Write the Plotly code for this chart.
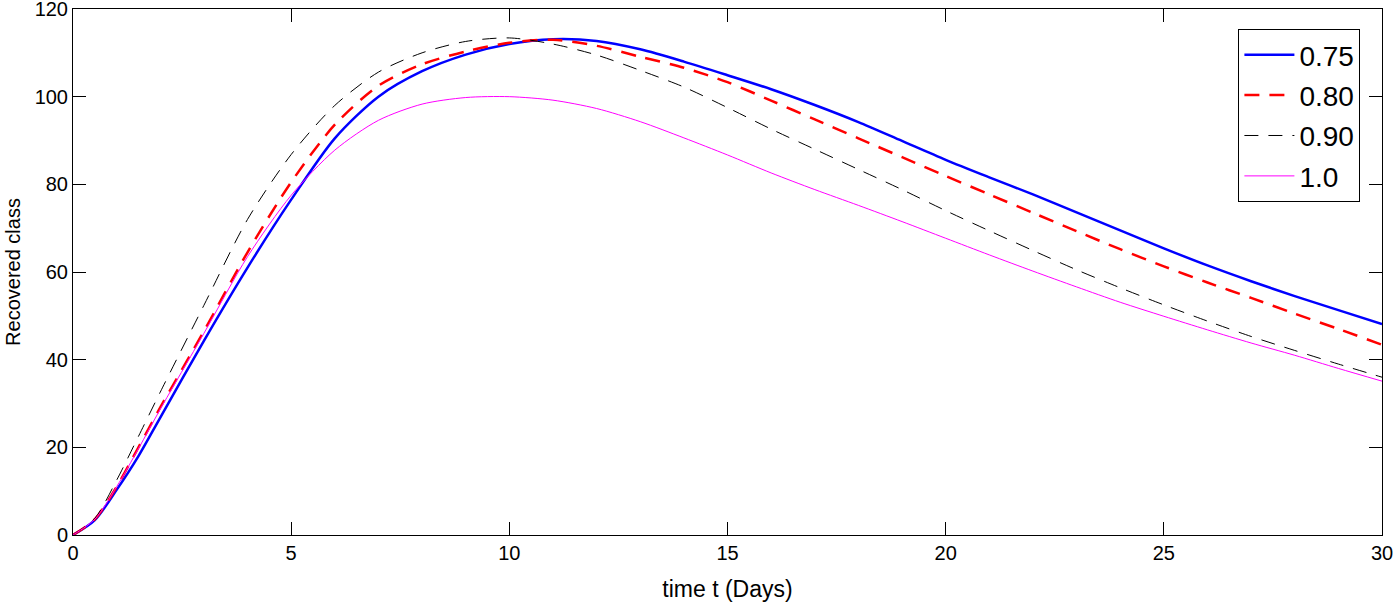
import plotly.graph_objects as go

t = [0, 0.5, 1, 1.5, 2, 3, 4, 5, 6, 7, 8, 9, 10, 11, 12, 13, 14, 15, 16, 17, 18, 19,
     20, 21, 22, 23, 24, 25, 26, 27, 28, 29, 30]

r_075 = [0, 3.4, 10.3, 18, 26.8, 44.3, 61, 76.5, 90.5, 100, 105.8, 109.6, 112, 113.1, 112.7,
         110.8, 108, 104.9, 101.7, 98.1, 94.2, 89.9, 85.6, 81.6, 77.7, 73.6, 69.5, 65.4,
         61.5, 57.9, 54.5, 51.3, 48.1]
r_080 = [0, 3.6, 11, 20, 29.1, 46.5, 64.5, 80.5, 93.6, 102.5, 107.4, 110.3, 112.3, 113, 111.6,
         109.1, 106.6, 103.3, 99.1, 94.8, 90.5, 86.2, 81.9, 77.7, 73.5, 69.3, 65.2, 61.3,
         57.6, 54.1, 50.5, 47, 43.4]
r_090 = [0, 3.8, 12.5, 22.5, 32.6, 52.4, 72, 86.8, 98, 105.6, 110, 112.6, 113.4, 112, 109.5,
         106, 102.2, 97.5, 92.6, 88, 83.4, 78.8, 74, 69.4, 64.9, 60.5, 56.4, 52.5, 48.8,
         45.3, 42.1, 39, 36]
r_100 = [0, 3.6, 11, 19.7, 28.7, 46, 63.5, 77.5, 87.8, 94.6, 98.3, 99.8, 100, 99.2, 97.3,
         94.3, 90.6, 86.7, 82.6, 78.8, 75.2, 71.5, 67.7, 63.9, 60.2, 56.6, 53.1, 49.9, 46.8,
         43.8, 41, 38, 35.1]

names = ["0.75", "0.80", "0.90", "1.0"]
series = [r_075, r_080, r_090, r_100]
styles = [
    dict(color="#0000ff", width=2.5, dash="solid"),
    dict(color="#ff0000", width=2.5, dash="15px,10px"),
    dict(color="#000000", width=1, dash="14px,10px"),
    dict(color="#ff00ff", width=1, dash="solid"),
]

FONT = "Liberation Sans, Arial, sans-serif"

fig = go.Figure()
for n, s, st in zip(names, series, styles):
    fig.add_trace(go.Scatter(x=t, y=s, mode="lines", name=n,
                             line=dict(shape="spline", smoothing=0.8, **st),
                             legendgroup=n))

axis_common = dict(
    showline=True, linecolor="black", linewidth=1, mirror="ticks",
    ticks="inside", ticklen=13, tickcolor="black", tickwidth=1,
    showgrid=False, zeroline=False, automargin=False,
    ticklabeloverflow="allow",
    tickfont=dict(family=FONT, size=20, color="black"),
)

fig.update_xaxes(range=[0, 30], tickvals=[0, 5, 10, 15, 20, 25, 30],
                 title=dict(text="time t (Days)", standoff=18,
                            font=dict(family=FONT, size=23, color="black")),
                 **axis_common)
fig.update_yaxes(range=[0, 120], tickvals=[0, 20, 40, 60, 80, 100, 120],
                 title=dict(text="Recovered class", standoff=8,
                            font=dict(family=FONT, size=20, color="black")),
                 **axis_common)

fig.update_layout(
    width=1394, height=602,
    margin=dict(l=73, r=12, t=9, b=67),
    plot_bgcolor="white", paper_bgcolor="white",
    legend=dict(
        x=0.9835, y=0.962, xanchor="right", yanchor="top",
        bordercolor="black", borderwidth=1, bgcolor="white",
        font=dict(family=FONT, size=28, color="black"),
        tracegroupgap=1, itemwidth=50,
    ),
)

fig.write_html("out.html", config={"displayModeBar": False},
               post_script="document.body.style.margin='0';document.body.style.padding='0';")
